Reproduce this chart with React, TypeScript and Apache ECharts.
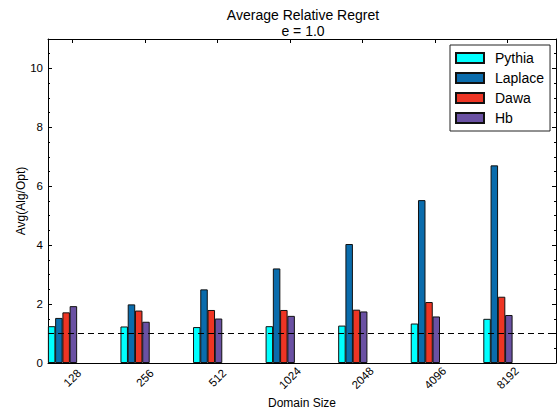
import React, { useEffect, useRef } from 'react';
import * as echarts from 'echarts';

const categories = ['128', '256', '512', '1024', '2048', '4096', '8192'];
const seriesNames = ['Pythia', 'Laplace', 'Dawa', 'Hb'];
const pythia = [1.25, 1.24, 1.22, 1.25, 1.27, 1.34, 1.5];
const laplace = [1.53, 1.99, 2.5, 3.21, 4.04, 5.53, 6.71];
const dawa = [1.72, 1.78, 1.8, 1.8, 1.81, 2.07, 2.25];
const hb = [1.93, 1.4, 1.51, 1.6, 1.75, 1.58, 1.63];
const referenceValue = 1;
const yMin = 0;
const yMax = 11;

const colors = ['#00FFFF', '#0A6CAC', '#EE3524', '#6A51A3'];
const FONT = '"Liberation Sans", Arial, Helvetica, sans-serif';

// layout constants (in axis units): each bar 0.1 wide, group starts 0.335 left of tick
const BAR_W = 0.1;
const GROUP_OFFSET = -0.335;
const X_MIN = GROUP_OFFSET;
const X_MAX = GROUP_OFFSET + 7;

const allValues = [pythia, laplace, dawa, hb];

function buildOption() {
  const series: any[] = allValues.map((vals, k) => ({
    name: seriesNames[k],
    type: 'bar',
    xAxisIndex: 0,
    yAxisIndex: 0,
    barWidth: 7.5,
    barGap: '-100%',
    itemStyle: { color: colors[k], borderColor: '#111', borderWidth: 1 },
    data: vals.map((v, i) => [i + GROUP_OFFSET + BAR_W * (k + 0.5), v]),
    z: 2,
  }));
  series[0].markLine = {
    silent: true,
    symbol: ['none', 'none'],
    label: { show: false },
    lineStyle: { color: '#000', type: [6, 4], width: 1 },
    data: [{ yAxis: referenceValue }],
    z: 5,
  };

  const xCommon = {
    type: 'value',
    min: X_MIN,
    max: X_MAX,
    splitNumber: 7,
    minInterval: 1,
    maxInterval: 1,
    splitLine: { show: false },
    axisLine: { show: true, onZero: false, lineStyle: { color: '#000', width: 1 } },
    axisTick: { show: true, inside: true, length: 4, lineStyle: { color: '#000' } },
  };

  const yCommon = {
    type: 'value',
    min: yMin,
    max: yMax,
    offset: 0,
    splitLine: { show: false },
  };

  return {
    animation: false,
    backgroundColor: '#fff',
    textStyle: { fontFamily: FONT },
    title: {
      text: 'Average Relative Regret\ne = 1.0',
      left: 303,
      top: 7,
      textAlign: 'center',
      padding: 0,
      textStyle: { fontSize: 14, fontWeight: 'normal', color: '#000', lineHeight: 16, fontFamily: FONT },
    },
    legend: {
      orient: 'vertical',
      left: 450,
      top: 45,
      icon: 'rect',
      itemWidth: 28,
      itemHeight: 10,
      itemGap: 6,
      padding: [6, 6, 6, 5],
      borderColor: '#222',
      borderWidth: 1,
      backgroundColor: '#fff',
      textStyle: { fontSize: 14, lineHeight: 14, color: '#000', fontFamily: FONT, padding: [0, 0, 0, 6] },
      data: seriesNames,
    },
    grid: { left: 48, right: 2, top: 39, bottom: 50, outerBoundsMode: 'none', containLabel: false },
    xAxis: [
      {
        ...xCommon,
        position: 'bottom',
        name: 'Domain Size',
        nameLocation: 'middle',
        nameGap: 34,
        nameMoveOverlap: false,
        nameTextStyle: { fontSize: 12, color: '#000', fontFamily: FONT },
        axisLabel: {
          show: true,
          rotate: 45,
          align: 'center',
          verticalAlign: 'middle',
          margin: 15,
          fontSize: 11.5,
          color: '#000',
          fontFamily: FONT,
          showMinLabel: false,
          showMaxLabel: false,
          formatter: (v: number) => {
            const r = Math.round(v);
            return Math.abs(v - r) < 1e-6 && categories[r] !== undefined ? categories[r] : '';
          },
        },
      },
      {
        ...xCommon,
        position: 'top',
        axisLabel: { show: false },
      },
    ],
    yAxis: [
      {
        ...yCommon,
        position: 'left',
        interval: 2,
        name: 'Avg(Alg/Opt)',
        nameLocation: 'middle',
        nameRotate: 90,
        nameGap: 21,
        nameMoveOverlap: false,
        nameTextStyle: { fontSize: 12, color: '#000', fontFamily: FONT },
        axisLine: { show: true, onZero: false, lineStyle: { color: '#000', width: 1 } },
        axisTick: { show: true, inside: true, length: 4, lineStyle: { color: '#000' } },
        axisLabel: { show: true, margin: 5, fontSize: 11.5, color: '#000', fontFamily: FONT, showMaxLabel: false },
      },
      {
        ...yCommon,
        position: 'left',
        interval: 0.5,
        axisLine: { show: false, onZero: false },
        axisTick: { show: true, inside: true, length: 2, lineStyle: { color: '#000' } },
        axisLabel: { show: false },
      },
      {
        ...yCommon,
        position: 'right',
        interval: 2,
        axisLine: { show: true, onZero: false, lineStyle: { color: '#000', width: 1 } },
        axisTick: { show: true, inside: true, length: 4, lineStyle: { color: '#000' } },
        axisLabel: { show: false },
      },
      {
        ...yCommon,
        position: 'right',
        interval: 0.5,
        axisLine: { show: false, onZero: false },
        axisTick: { show: true, inside: true, length: 2, lineStyle: { color: '#000' } },
        axisLabel: { show: false },
      },
    ],
    series,
  };
}

export default function App() {
  const ref = useRef<HTMLDivElement>(null);
  useEffect(() => {
    const chart = echarts.init(ref.current!, null, { renderer: 'svg' });
    chart.setOption(buildOption() as any);
    return () => chart.dispose();
  }, []);
  return (
    <div
      ref={ref}
      style={{ position: 'fixed', left: 0, top: 0, width: 558, height: 413, background: '#fff' }}
    />
  );
}
